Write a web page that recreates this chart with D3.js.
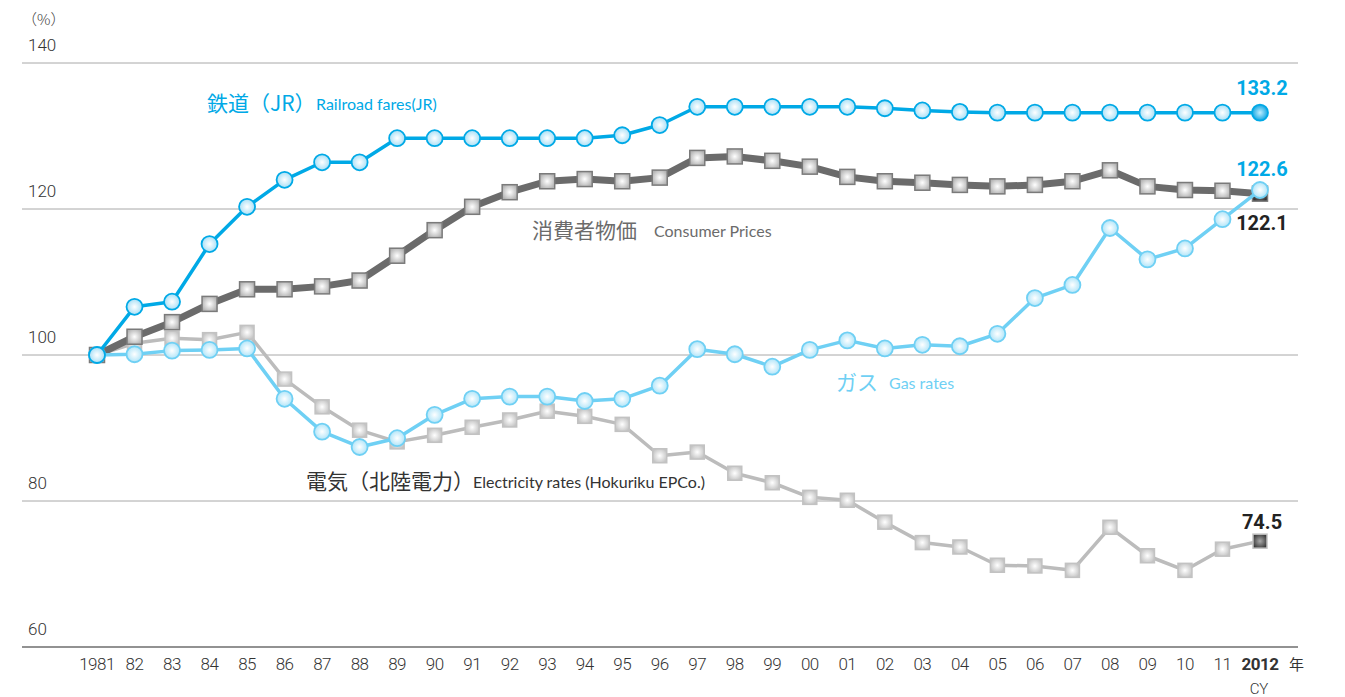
<!DOCTYPE html>
<html>
  <head>
    <meta charset="utf-8" />
    <script src="https://cdn.jsdelivr.net/npm/d3@7"></script>
    <style>
      body {
        margin: 0;
        background: #ffffff;
      }
      svg {
        display: block;
        font-family: Roboto, "Noto Sans CJK JP", sans-serif;
      }
      .jp {
        font-family: "Noto Sans CJK JP", sans-serif;
      }
      .en {
        font-family: Lato, "Open Sans", sans-serif;
      }
    </style>
  </head>
  <body>
    <svg id="chart" width="1345" height="697"></svg>

    <script>
      // years and tick labels
      const years = d3.range(1981, 2013);
      const yearLabels = ["1981", "82", "83", "84", "85", "86", "87", "88", "89", "90",
        "91", "92", "93", "94", "95", "96", "97", "98", "99", "00",
        "01", "02", "03", "04", "05", "06", "07", "08", "09", "10", "11", "2012"];
      const yTicks = [60, 80, 100, 120, 140];

      // index values, 1981 = 100
      const railroad = [100, 106.6, 107.3, 115.2, 120.3, 124.0, 126.4, 126.4, 129.7, 129.7,
        129.7, 129.7, 129.7, 129.7, 130.1, 131.5, 134.0, 134.0, 134.0, 134.0,
        134.0, 133.8, 133.5, 133.3, 133.2, 133.2, 133.2, 133.2, 133.2, 133.2, 133.2, 133.2];
      const cpi = [100, 102.5, 104.5, 107.0, 109.0, 109.0, 109.4, 110.2, 113.6, 117.1,
        120.3, 122.3, 123.8, 124.1, 123.8, 124.3, 127.0, 127.2, 126.6, 125.8,
        124.4, 123.8, 123.6, 123.3, 123.1, 123.3, 123.8, 125.3, 123.1, 122.6, 122.5, 122.1];
      const gas = [100, 100.1, 100.6, 100.7, 100.9, 94.0, 89.5, 87.4, 88.6, 91.8,
        94.0, 94.3, 94.3, 93.7, 94.0, 95.8, 100.8, 100.1, 98.4, 100.7,
        102.0, 100.9, 101.4, 101.2, 102.9, 107.8, 109.6, 117.4, 113.1, 114.6, 118.6, 122.6];
      const electricity = [100, 101.6, 102.3, 102.1, 103.1, 96.7, 92.9, 89.7, 88.1, 89.0,
        90.1, 91.1, 92.3, 91.6, 90.5, 86.2, 86.7, 83.8, 82.5, 80.5,
        80.1, 77.1, 74.3, 73.7, 71.2, 71.1, 70.5, 76.4, 72.5, 70.5, 73.4, 74.5];

      const svg = d3.select("#chart");

      const x = d3.scaleLinear().domain([1981, 2012]).range([97, 1260]);
      const y = d3.scaleLinear().domain([60, 140]).range([647, 63]);

      // gradients for the markers
      const defs = svg.append("defs");
      function radial(id, inner, outer) {
        const g = defs.append("radialGradient").attr("id", id)
          .attr("cx", "50%").attr("cy", "50%").attr("r", "55%");
        g.append("stop").attr("offset", "0%").attr("stop-color", inner);
        g.append("stop").attr("offset", "100%").attr("stop-color", outer);
      }
      radial("gRail", "#ffffff", "#9fdcf5");
      radial("gRailEnd", "#bfeeff", "#00a0e0");
      radial("gGas", "#ffffff", "#a8e2f8");
      radial("gCpi", "#ffffff", "#b4b4b4");
      radial("gCpiEnd", "#9a9a9a", "#303030");
      radial("gElec", "#ffffff", "#c4c4c4");
      radial("gElecEnd", "#aaaaaa", "#3a3a3a");

      // grid lines
      svg.append("g").selectAll("line")
        .data(yTicks.filter(d => d > 60))
        .join("line")
        .attr("x1", 22).attr("x2", 1298)
        .attr("y1", d => y(d)).attr("y2", d => y(d))
        .attr("stroke", "#a8a8a8").attr("stroke-width", 1);

      // bottom axis line
      svg.append("line")
        .attr("x1", 22).attr("x2", 1298)
        .attr("y1", y(60)).attr("y2", y(60))
        .attr("stroke", "#6e6e6e").attr("stroke-width", 1.5);

      // y labels
      svg.append("g").selectAll("text")
        .data(yTicks)
        .join("text")
        .attr("x", 28).attr("y", d => y(d) - 12)
        .attr("font-size", 17).attr("font-weight", 300).attr("fill", "#333")
        .text(d => d);
      svg.append("text").attr("class", "jp")
        .attr("x", 22).attr("y", 25)
        .attr("font-size", 15).attr("font-weight", 300).attr("fill", "#444")
        .text("（%）");

      // x labels
      svg.append("g").selectAll("text")
        .data(years)
        .join("text")
        .attr("x", d => x(d)).attr("y", 670)
        .attr("text-anchor", "middle")
        .attr("font-size", 17).attr("fill", "#333")
        .attr("font-weight", (d, i) => i === years.length - 1 ? "bold" : 300)
        .attr("letter-spacing", -0.5)
        .text((d, i) => yearLabels[i]);
      svg.append("text").attr("class", "jp")
        .attr("x", 1289).attr("y", 670)
        .attr("font-size", 15).attr("fill", "#333").text("年");
      svg.append("text")
        .attr("x", 1259).attr("y", 694).attr("text-anchor", "middle")
        .attr("font-size", 15).attr("font-weight", 300).attr("fill", "#333").text("CY");

      const line = d3.line().x((d, i) => x(years[i])).y(d => y(d));

      function drawSeries(data, color, width) {
        svg.append("path").datum(data)
          .attr("d", line)
          .attr("fill", "none")
          .attr("stroke", color)
          .attr("stroke-width", width)
          .attr("stroke-linejoin", "round");
      }

      function drawSquares(data, fill, endFill, stroke, size) {
        svg.append("g").selectAll("rect")
          .data(data)
          .join("rect")
          .attr("x", (d, i) => x(years[i]) - size / 2)
          .attr("y", d => y(d) - size / 2)
          .attr("width", size).attr("height", size)
          .attr("fill", (d, i) => i === data.length - 1 ? endFill : fill)
          .attr("stroke", stroke)
          .attr("stroke-width", stroke === "none" ? 0 : 1.5);
      }

      function drawCircles(data, fill, endFill, stroke, r) {
        svg.append("g").selectAll("circle")
          .data(data)
          .join("circle")
          .attr("cx", (d, i) => x(years[i]))
          .attr("cy", d => y(d))
          .attr("r", r)
          .attr("fill", (d, i) => i === data.length - 1 ? endFill : fill)
          .attr("stroke", stroke)
          .attr("stroke-width", 1.8);
      }

      // electricity (back)
      drawSeries(electricity, "#bcbcbc", 3.5);
      drawSquares(electricity, "url(#gElec)", "url(#gElecEnd)", "#c2c2c2", 14);

      // consumer prices
      drawSeries(cpi, "#6b6b6b", 7);
      drawSquares(cpi, "url(#gCpi)", "url(#gCpiEnd)", "#7a7a7a", 15);

      // gas
      drawSeries(gas, "#6fd0f4", 3.5);
      drawCircles(gas, "url(#gGas)", "url(#gGas)", "#6fd0f4", 8);

      // railroad
      drawSeries(railroad, "#00a9e6", 3.5);
      drawCircles(railroad, "url(#gRail)", "url(#gRailEnd)", "#00a9e6", 8);

      // series labels
      function seriesLabel(xp, yp, jp, en, color, enX) {
        svg.append("text").attr("class", "jp")
          .attr("x", xp).attr("y", yp)
          .attr("font-size", 21).attr("fill", color).text(jp);
        svg.append("text").attr("class", "en")
          .attr("x", enX).attr("y", yp - 1)
          .attr("font-size", 16).attr("fill", color).text(en);
      }
      seriesLabel(207, 111, "鉄道（JR）", "Railroad fares(JR)", "#00a9e6", 316);
      seriesLabel(532, 238, "消費者物価", "Consumer Prices", "#6b6b6b", 654);
      seriesLabel(836, 390, "ガス", "Gas rates", "#6fd0f4", 889);
      seriesLabel(306, 489, "電気（北陸電力）", "Electricity rates (Hokuriku EPCo.)", "#333333", 473);

      // end values
      const endLabels = [
        { v: railroad[31], text: "133.2", color: "#00a9e6", dy: -18 },
        { v: gas[31], text: "122.6", color: "#00a9e6", dy: -14 },
        { v: cpi[31], text: "122.1", color: "#222222", dy: 36 },
        { v: electricity[31], text: "74.5", color: "#222222", dy: -12 }
      ];
      svg.append("g").selectAll("text")
        .data(endLabels)
        .join("text")
        .attr("x", 1262).attr("y", d => y(d.v) + d.dy)
        .attr("text-anchor", "middle")
        .attr("font-size", 20).attr("font-weight", "bold")
        .attr("fill", d => d.color)
        .text(d => d.text);
    </script>
  </body>
</html>
